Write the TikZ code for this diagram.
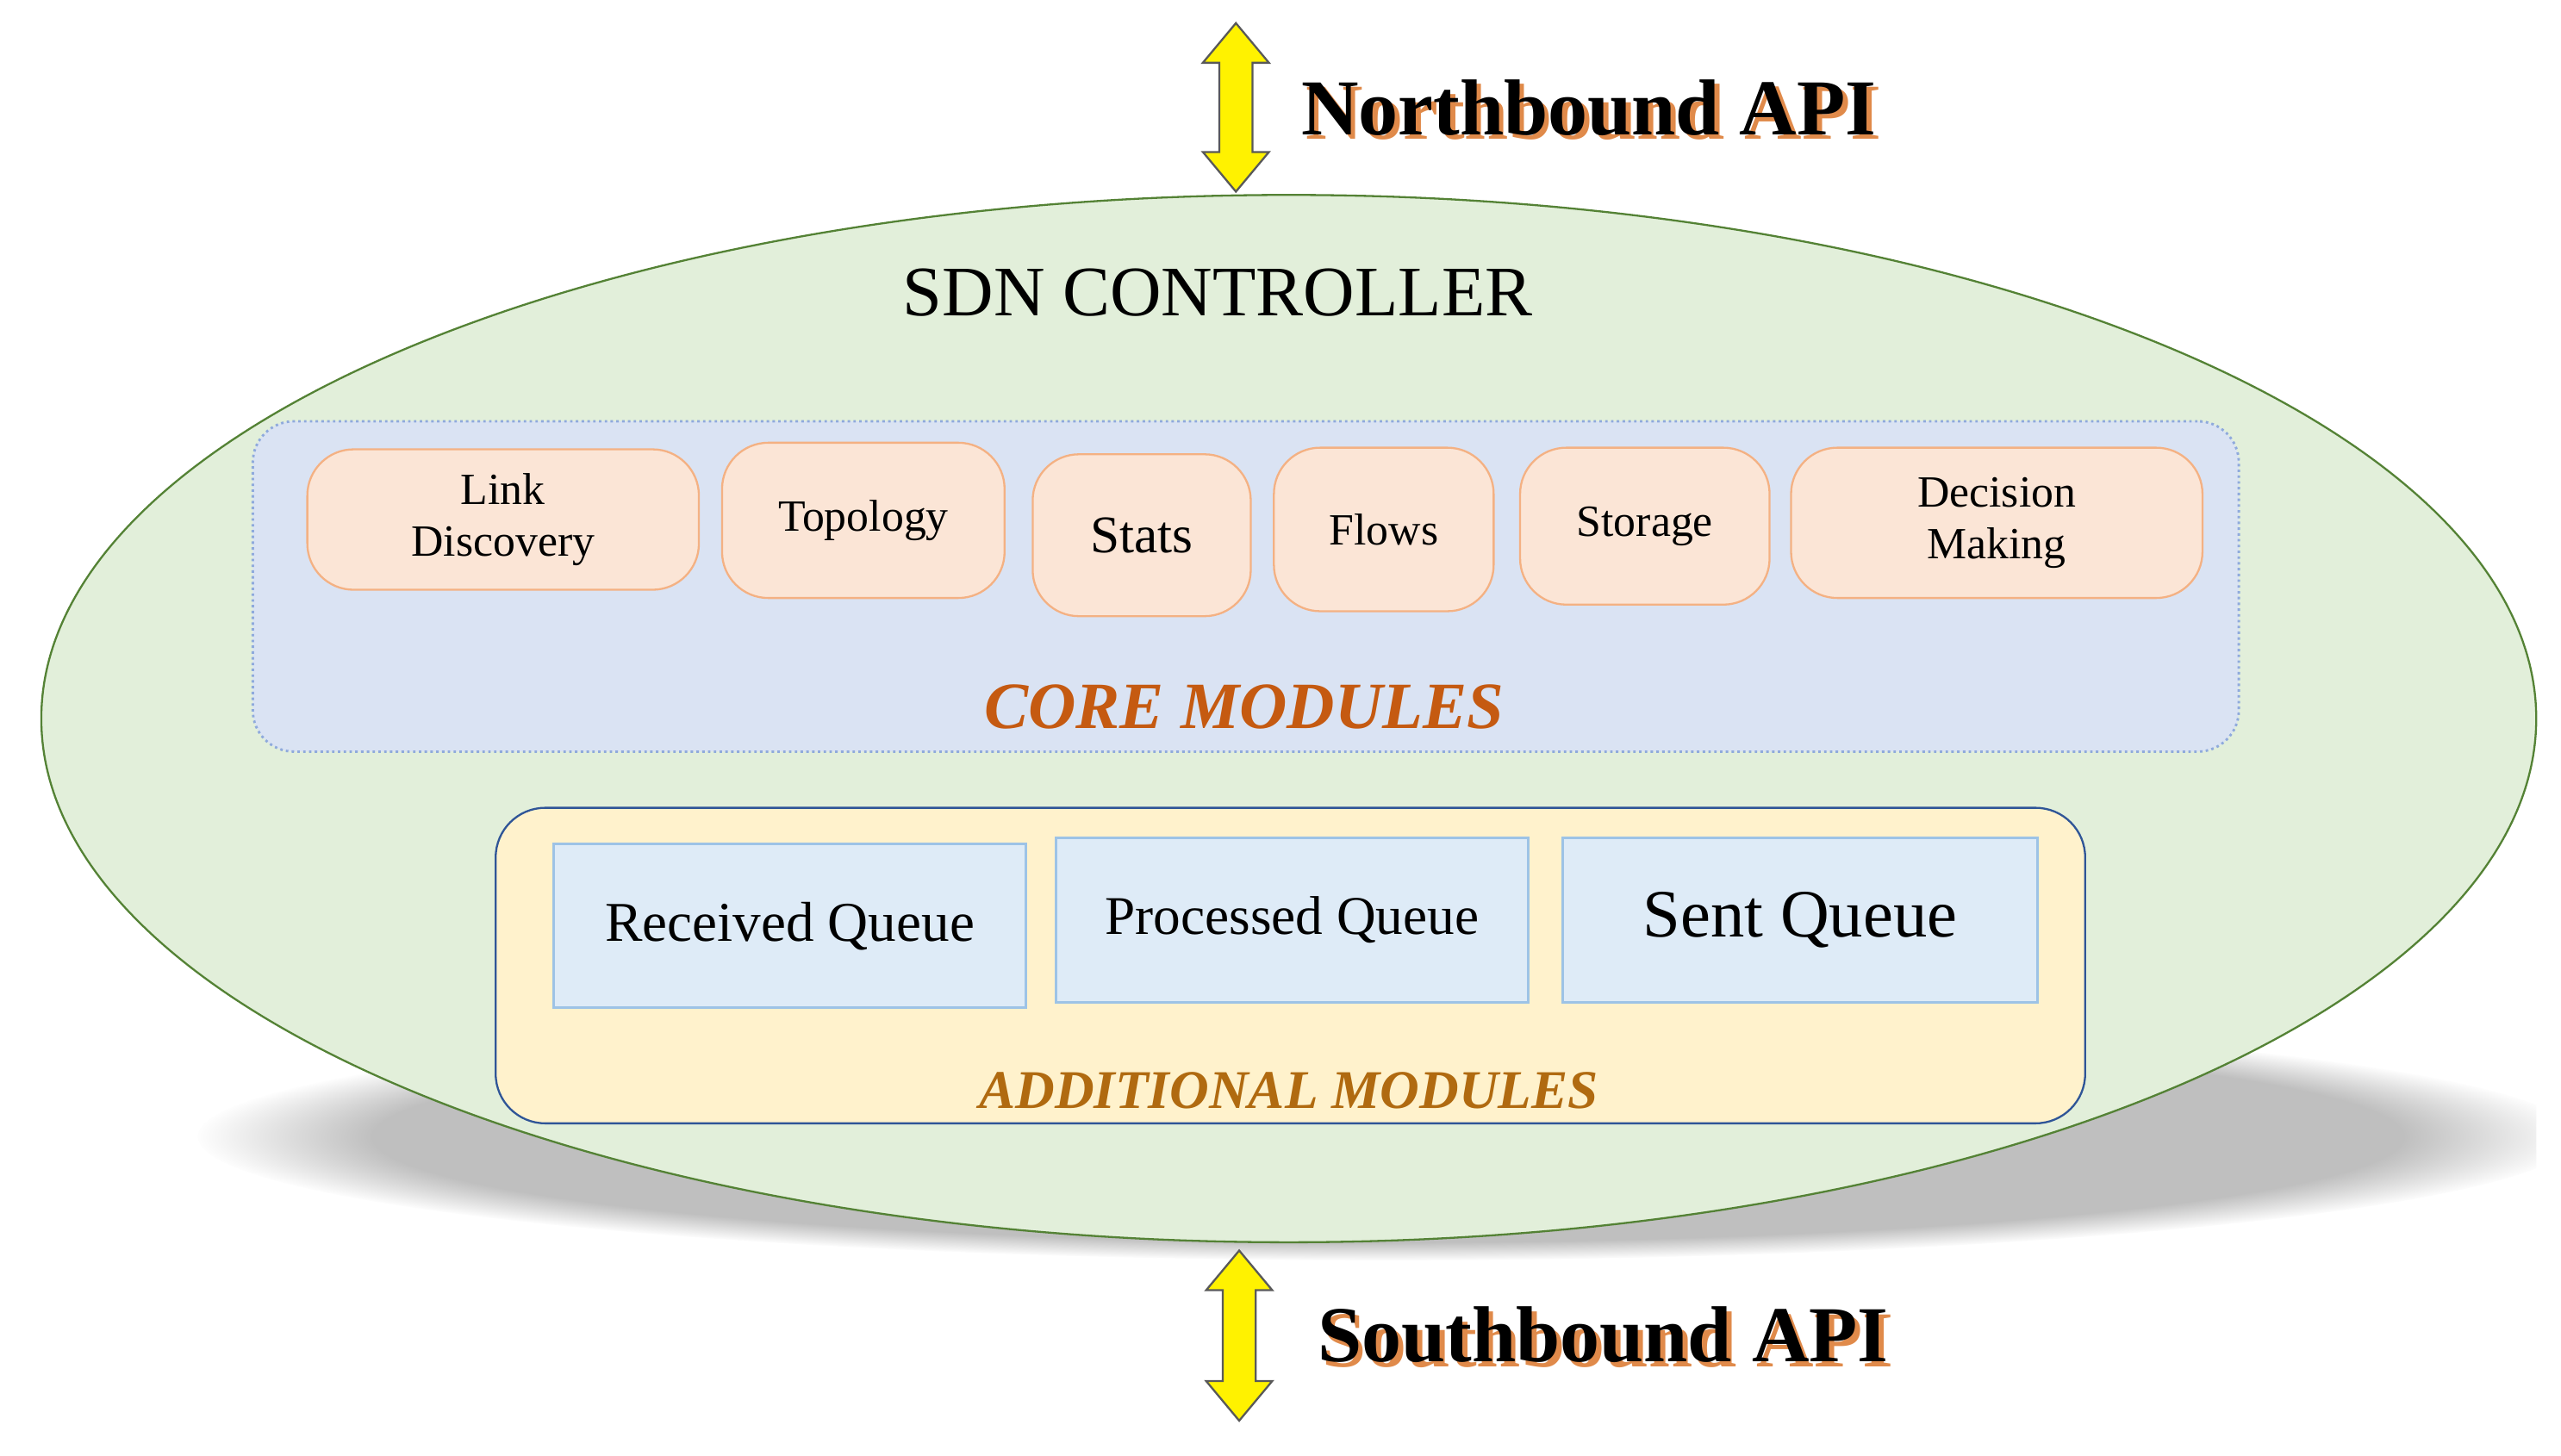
\documentclass[tikz,border=0pt]{standalone}
\usepackage{fontspec}
\setmainfont{Liberation Serif}
\usetikzlibrary{shapes.geometric,fadings}
\definecolor{ellfill}{HTML}{E2EFDA}
\definecolor{ellline}{HTML}{548235}
\definecolor{corefill}{HTML}{DAE3F3}
\definecolor{coreline}{HTML}{8FAADC}
\definecolor{modfill}{HTML}{FBE5D6}
\definecolor{modline}{HTML}{F4B183}
\definecolor{addfill}{HTML}{FFF2CC}
\definecolor{addline}{HTML}{2F5597}
\definecolor{qfill}{HTML}{DEEBF7}
\definecolor{qline}{HTML}{9DC3E6}
\definecolor{coretxt}{HTML}{C55A11}
\definecolor{addtxt}{HTML}{B06A10}
\definecolor{shadowtxt}{HTML}{E08A4A}
\tikzset{
  mod/.style={draw=modline,fill=modfill,rounded corners=28pt,line width=1.2pt,align=center,font=\fontsize{27}{31}\selectfont,inner sep=0pt},
  q/.style={draw=qline,fill=qfill,line width=1.5pt,inner sep=0pt},
  apiarrow/.style={draw=black!65,fill=yellow,line width=1.2pt,line join=miter},
  apitxt/.style={font=\bfseries\fontsize{48}{52}\selectfont,anchor=west},
}
\newcommand{\dblarrow}[3]{% x, ytop, ybottom
  \path[apiarrow] (#1,#2) -- (#1+20,#2+24) -- (#1+10,#2+24) -- (#1+10,#3-24) -- (#1+20,#3-24)
   -- (#1,#3) -- (#1-20,#3-24) -- (#1-10,#3-24) -- (#1-10,#2+24) -- (#1-20,#2+24) -- cycle;}
\begin{document}
\begin{tikzpicture}[x=1pt,y=-1pt]
\useasboundingbox (0,0) rectangle (1550,881);
% shadow
\begin{scope}
\clip (0,0) rectangle (1535,881);
\fill[black!25,path fading=circle with fuzzy edge 15 percent] (840,688) ellipse (720pt and 75pt);
\end{scope}
% controller ellipse
\node[draw=ellline,fill=ellfill,line width=1.2pt,ellipse,minimum width=1510pt,minimum height=634pt,inner sep=0pt] (ctrl) at (780,435) {};
\node[font=\fontsize{43}{47}\selectfont] (title) at (737,177) {SDN CONTROLLER};
% core box
\node[draw=coreline,fill=corefill,dotted,line width=1.5pt,rounded corners=25pt,minimum width=1202pt,minimum height=200pt,inner sep=0pt] (core) at (754,355) {};
\node[mod,minimum width=237pt,minimum height=85pt] (link) at (304.5,314.5) {Link\\Discovery};
\node[mod,minimum width=171pt,minimum height=94pt] (topo) at (522.5,315) {Topology};
\node[mod,minimum width=132pt,minimum height=98pt,font=\fontsize{32}{36}\selectfont] (stats) at (691,324) {Stats};
\node[mod,minimum width=133pt,minimum height=99pt] (flows) at (837.5,320.5) {Flows};
\node[mod,minimum width=151pt,minimum height=95pt] (stor) at (995.5,318.5) {Storage};
\node[mod,minimum width=249pt,minimum height=91pt] (dec) at (1208.5,316.5) {Decision\\Making};
\node[font=\bfseries\itshape\fontsize{40}{44}\selectfont,text=coretxt] (coretitle) at (753,428) {CORE MODULES};
% additional box
\node[draw=addline,fill=addfill,line width=1.2pt,rounded corners=30pt,minimum width=962pt,minimum height=191pt,inner sep=0pt] (add) at (781,584.5) {};
\node[q,minimum width=286pt,minimum height=99pt,font=\fontsize{34}{38}\selectfont] (rq) at (478,560.5) {Received Queue};
\node[q,minimum width=286pt,minimum height=100pt,font=\fontsize{33}{37}\selectfont] (pq) at (782,557) {Processed Queue};
\node[q,minimum width=287pt,minimum height=100pt,font=\fontsize{41}{45}\selectfont] (sq) at (1089.5,557) {Sent Queue};
\node[font=\bfseries\itshape\fontsize{33}{37}\selectfont,text=addtxt] (addtitle) at (780,660) {ADDITIONAL MODULES};
% APIs
\dblarrow{748}{14}{116}
\dblarrow{750}{757}{860}
\node[apitxt,text=shadowtxt] at (787,68) {Northbound API};
\node[apitxt] (ntxt) at (784,65) {Northbound API};
\node[apitxt,text=shadowtxt] at (797,811) {Southbound API};
\node[apitxt] (stxt) at (794,808) {Southbound API};
\end{tikzpicture}
\end{document}
